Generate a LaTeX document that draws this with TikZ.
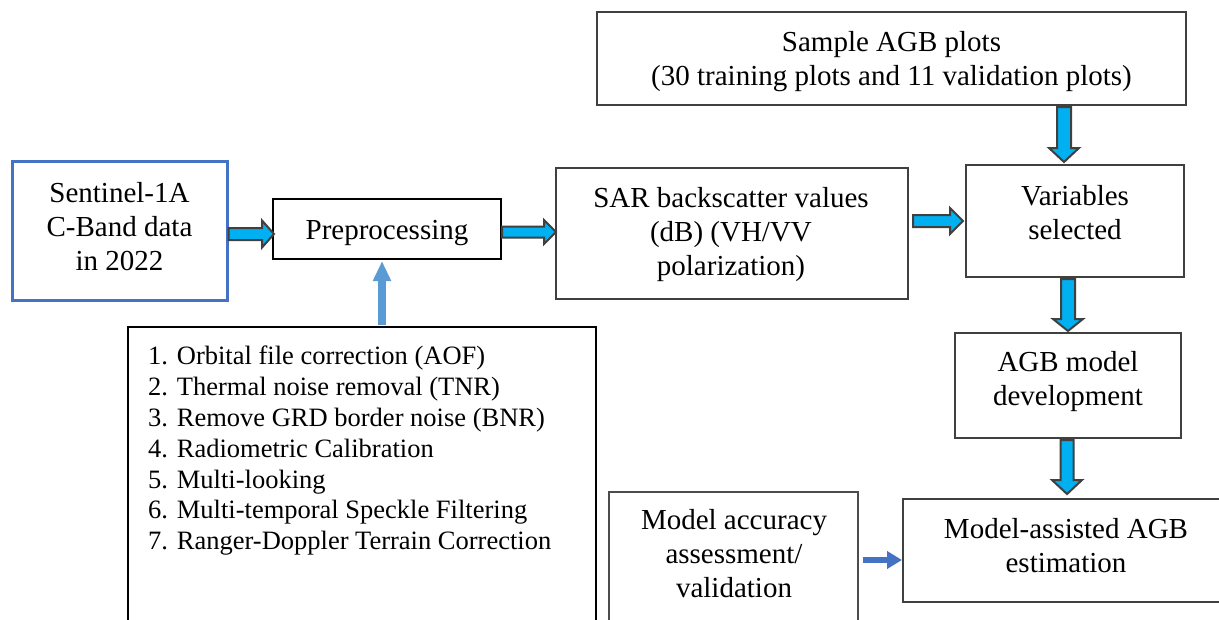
\documentclass[tikz,border=0pt]{standalone}
\usepackage{fontspec}
\setmainfont{Liberation Serif}
\usetikzlibrary{arrows.meta,calc}
\definecolor{cyanfill}{HTML}{00B0F0}
\definecolor{bordergray}{HTML}{404040}
\definecolor{senblue}{HTML}{4472C4}
\definecolor{lightblue}{HTML}{5B9BD5}
\newcommand\boxfont{\fontsize{29}{34}\selectfont}
\newcommand\listfont{\fontsize{26.5}{30.8}\selectfont}
% horizontal block arrow: start, end, shaft half, head half, head length
\newcommand\harrow[5]{\draw[blockarrow] let \p1=(#1), \p2=(#2) in
  (\x1,\y1+#3) -- (\x2-#5,\y1+#3) -- (\x2-#5,\y1+#4) -- (\x2,\y1) --
  (\x2-#5,\y1-#4) -- (\x2-#5,\y1-#3) -- (\x1,\y1-#3) -- cycle;}
% vertical (downward) block arrow
\newcommand\varrow[5]{\draw[blockarrow] let \p1=(#1), \p2=(#2) in
  (\x1-#3,\y1) -- (\x1-#3,\y2+#5) -- (\x1-#4,\y2+#5) -- (\x1,\y2) --
  (\x1+#4,\y2+#5) -- (\x1+#3,\y2+#5) -- (\x1+#3,\y1) -- cycle;}
\begin{document}
\begin{tikzpicture}[x=1pt,y=-1pt,
  box/.style={draw=bordergray,line width=2pt,inner sep=0pt,align=center,font=\boxfont},
  txt/.style={align=center,font=\boxfont,inner sep=0pt},
  blockarrow/.style={fill=cyanfill,draw=bordergray,line width=2pt,line join=miter}]
\clip (0,0) rectangle (1219,619);
\fill[white] (0,0) rectangle (1219,619);

% boxes
\node[box,draw=senblue,line width=3pt,minimum width=215pt,minimum height=139pt] (sen) at (119.5,230.5) {};
\node[txt] at (119.5,227) {Sentinel-1A\\C-Band data\\in 2022};
\node[box,draw=black,minimum width=228pt,minimum height=60pt] (pre) at (387,229) {};
\node[txt] at (387,233) {Preprocessing};
\node[box,minimum width=352pt,minimum height=131pt] (sar) at (732,233.5) {};
\node[txt] at (731,235) {SAR backscatter values\\(dB) (VH/VV\\polarization)};
\node[box,minimum width=589pt,minimum height=93pt] (sam) at (891.5,58.5) {};
\node[txt] at (891.5,62) {Sample AGB plots\\(30 training plots and 11 validation plots)};
\node[box,minimum width=218pt,minimum height=112pt] (var) at (1075,221) {};
\node[txt] at (1075,213) {Variables\\selected};
\node[box,minimum width=226pt,minimum height=105pt] (agb) at (1068,385.5) {};
\node[txt] at (1068,382) {AGB model\\development};
\node[box,minimum width=329pt,minimum height=103pt] (mas) at (1067.5,550.5) {};
\node[txt] at (1066,546) {Model-assisted AGB\\estimation};
\node[box,draw=black!70,line width=1.5pt,minimum width=249pt,minimum height=148pt] (mac) at (733.5,566) {};
\node[txt] at (734,554) {Model accuracy\\assessment/\\validation};
\node[box,draw=black,line width=1.5pt,minimum width=468pt,minimum height=313pt] (lst) at (362,483.5) {};
\node[anchor=north west,align=left,font=\listfont,inner sep=0pt] (lsttxt) at (148,346)
  {1. Orbital file correction (AOF)\\
   2. Thermal noise removal (TNR)\\
   3. Remove GRD border noise (BNR)\\
   4. Radiometric Calibration\\
   5. Multi-looking\\
   6. Multi-temporal Speckle Filtering\\
   7. Ranger-Doppler Terrain Correction};

% block arrows
\harrow{$(sen.east)+(0,3.5)$}{$(pre.west)+(2,0)$}{6pt}{13.5pt}{12pt}
\harrow{$(pre.east)+(0,3)$}{$(sar.west)+(1,0)$}{5.5pt}{12pt}{12pt}
\harrow{$(sar.east)+(4,-12.5)$}{$(var.west)+(-2,0)$}{6pt}{13pt}{13pt}
\varrow{$(sam.south -| var.north)+(-11,1)$}{$(var.north)+(-11,-2)$}{7pt}{15pt}{14pt}
\varrow{$(var.south)+(-7,1)$}{$(agb.north)+(0,-1)$}{7pt}{15pt}{12pt}
\varrow{$(agb.south)+(-1,1)$}{$(mas.north -| agb.south)+(-1,-4)$}{6.5pt}{15pt}{14pt}

% thin arrows
\draw[line width=8pt,lightblue,-{Triangle[length=20pt,width=17pt]}]
  ($(lst.north -| pre.south)+(-5,-1)$) -- ($(pre.south)+(-5,1)$);
\draw[line width=6pt,senblue,-{Triangle[length=15pt,width=17pt]}]
  ($(mac.east)+(4,-6)$) -- ($(mac.east -| mas.west)+(0,-6)$);
\end{tikzpicture}
\end{document}
